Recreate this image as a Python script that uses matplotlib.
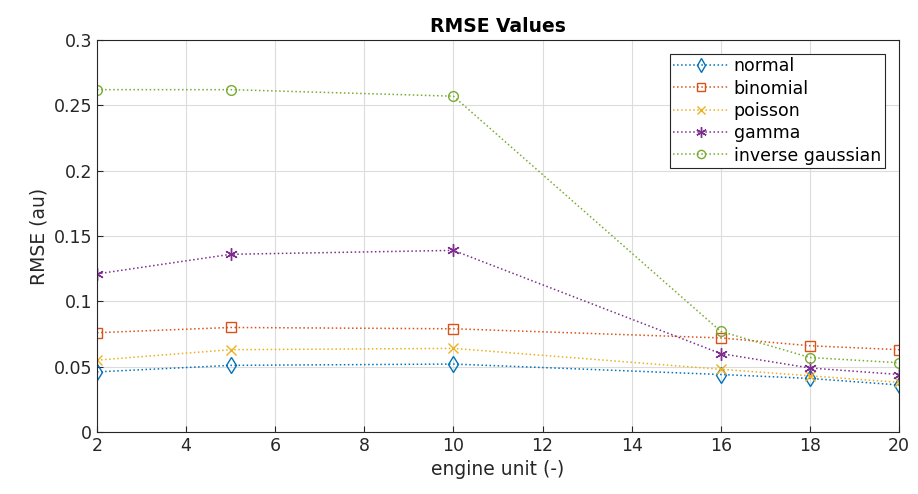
import matplotlib
matplotlib.use('Agg')
import matplotlib.pyplot as plt

units = [2, 5, 10, 16, 18, 20]
normal = [0.046, 0.051, 0.052, 0.044, 0.041, 0.036]
binomial = [0.076, 0.080, 0.079, 0.072, 0.066, 0.063]
poisson = [0.055, 0.063, 0.064, 0.048, 0.043, 0.038]
gamma = [0.121, 0.136, 0.139, 0.060, 0.049, 0.044]
inv_gauss = [0.262, 0.262, 0.257, 0.077, 0.057, 0.053]

names = ['normal', 'binomial', 'poisson', 'gamma', 'inverse gaussian']
colors = ['#0072BD', '#D95319', '#EDB120', '#7E2F8E', '#77AC30']
# matlab style markers; the asterisk is a 6-spoke marker
markers = ['d', 's', 'x', (6, 2, 0), 'o']
sizes = [8, 7, 7, 9, 7]
series = [normal, binomial, poisson, gamma, inv_gauss]

plt.rcParams['font.family'] = 'DejaVu Sans'
fig = plt.figure(figsize=(9.18, 4.94), dpi=100)
ax = fig.add_axes([97/918, 1 - 432/494, (899-97)/918, (432-40)/494])

for y, name, c, m, ms in zip(series, names, colors, markers, sizes):
    ax.plot(units, y, linestyle=':', color=c, marker=m, mfc='none', mec=c,
            markersize=ms, markeredgewidth=1, linewidth=1.1, label=name)

ax.set_xlim(2, 20)
ax.set_ylim(0, 0.3)
ax.set_xticks(range(2, 21, 2))
ax.set_yticks([0, 0.05, 0.1, 0.15, 0.2, 0.25, 0.3])
ax.set_yticklabels(['0', '0.05', '0.1', '0.15', '0.2', '0.25', '0.3'])
ax.grid(True, color='#dcdcdc', linewidth=0.8)
ax.set_axisbelow(True)
ax.tick_params(direction='in', labelsize=12.5, color='#262626', labelcolor='#262626',
               length=4, top=False, right=False)
for s in ax.spines.values():
    s.set_color('#262626')
    s.set_linewidth(0.8)

ax.set_xlabel('engine unit (-)', fontsize=13.5, color='#262626')
ax.set_ylabel('RMSE (au)', fontsize=13.5, color='#262626')
ax.set_title('RMSE Values', fontsize=13.5, fontweight='bold')

leg = ax.legend(loc='upper right', fontsize=12.5, fancybox=False, framealpha=1,
                edgecolor='#262626', borderpad=0.2, handlelength=3.2,
                handletextpad=0.3, labelspacing=0.25, borderaxespad=0,
                bbox_to_anchor=(0.982, 0.965), markerscale=0.85)
leg.get_frame().set_linewidth(0.8)

fig.savefig('out.png', dpi=100)
